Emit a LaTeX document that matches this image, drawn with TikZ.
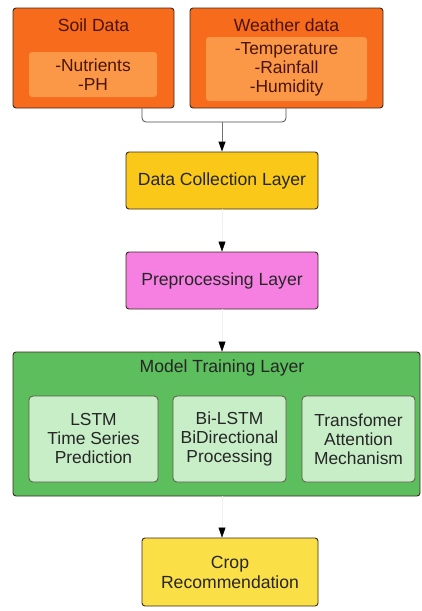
\documentclass[tikz,border=0pt]{standalone}
\usepackage{fontspec}
\setmainfont{Liberation Sans}
\usetikzlibrary{arrows.meta,calc}
\definecolor{orOut}{HTML}{F76B1C}
\definecolor{orIn}{HTML}{FA9848}
\definecolor{dcYel}{HTML}{F9C819}
\definecolor{ppPink}{HTML}{F680E2}
\definecolor{mtGreen}{HTML}{5CBE5C}
\definecolor{mtIn}{HTML}{C8EEC8}
\definecolor{crYel}{HTML}{FAE046}
\definecolor{edge}{HTML}{3A2A1E}
\definecolor{txtOr}{HTML}{4A1408}
\tikzset{
  box/.style={draw=edge, line width=0.9pt, rounded corners=3pt, align=center, inner sep=0pt},
  innerbox/.style={draw=none, rounded corners=3pt, align=center, inner sep=0pt, fill=orIn},
  greenin/.style={draw=edge!80, line width=0.8pt, rounded corners=4pt, align=center, inner sep=0pt, fill=mtIn},
  ttl/.style={font=\fontsize{17.6}{20}\selectfont},
  body/.style={font=\fontsize{17.4}{19}\selectfont},
  arr/.style={draw=black!6, line width=0.5pt, -{Triangle[length=10pt,width=7pt,color=black]}},
  arrg/.style={draw=black!55, line width=1pt, -{Triangle[length=10pt,width=7pt,color=black]}},
  merge/.style={draw=black!70, line width=0.8pt, rounded corners=4pt}
}
\begin{document}
\begin{tikzpicture}[x=1pt,y=-1pt]
\useasboundingbox (0,0) rectangle (422,611);
% top sources
\node[box, fill=orOut, minimum width=161pt, minimum height=100pt] (soil) at (93.5,58) {};
\node[ttl, text=txtOr] (soilt) at (93.5,25) {Soil Data};
\node[innerbox, body, text=txtOr, minimum width=128pt, minimum height=45pt] (soili) at (93,74.5) {-Nutrients\\-PH};
\node[box, fill=orOut, minimum width=193pt, minimum height=100pt] (wea) at (286.5,58) {};
\node[ttl, text=txtOr] (weat) at (286.5,25) {Weather data};
\node[innerbox, body, text=txtOr, minimum width=161pt, minimum height=64pt] (weai) at (286.5,69) {-Temperature\\-Rainfall\\-Humidity};
% layers
\node[box, ttl, fill=dcYel, text=black!85, minimum width=192pt, minimum height=57pt] (dc) at (222,180.5) {Data Collection Layer};
\node[box, ttl, fill=ppPink, text=black!85, minimum width=192pt, minimum height=57pt] (pp) at (222,280.5) {Preprocessing Layer};
\node[box, fill=mtGreen, minimum width=407pt, minimum height=144pt] (mt) at (216.5,424) {};
\node[ttl, text=black!85] (mtt) at (222,368) {Model Training Layer};
\node[greenin, body, text=black!85, minimum width=129pt, minimum height=86pt] (lstm) at (93.5,439) {LSTM\\Time Series\\Prediction};
\node[greenin, body, text=black!85, minimum width=113pt, minimum height=86pt] (bil) at (229.5,439) {Bi-LSTM\\BiDirectional\\Processing};
\node[greenin, body, text=black!85, minimum width=113pt, minimum height=86pt] (trf) at (358.5,439) {Transfomer\\Attention\\Mechanism};
\node[box, ttl, fill=crYel, text=black!85, minimum width=176pt, minimum height=68pt] (crop) at (230,572) {Crop\\Recommendation};
% connectors
\coordinate (m1) at (142,122);
\coordinate (m2) at (286,122);
\coordinate (mj) at (222,122);
\draw[merge] (soil.south -| m1) -- (m1) -- (m2) -- (wea.south -| m2);
\draw[arrg] (mj) -- (dc.north);
\draw[arr] (dc.south) -- (pp.north);
\draw[arr] (pp.south) -- (mt.north -| pp.south);
\draw[arr] (mt.south -| dc.south) -- (crop.north -| dc.south);
\end{tikzpicture}
\end{document}
